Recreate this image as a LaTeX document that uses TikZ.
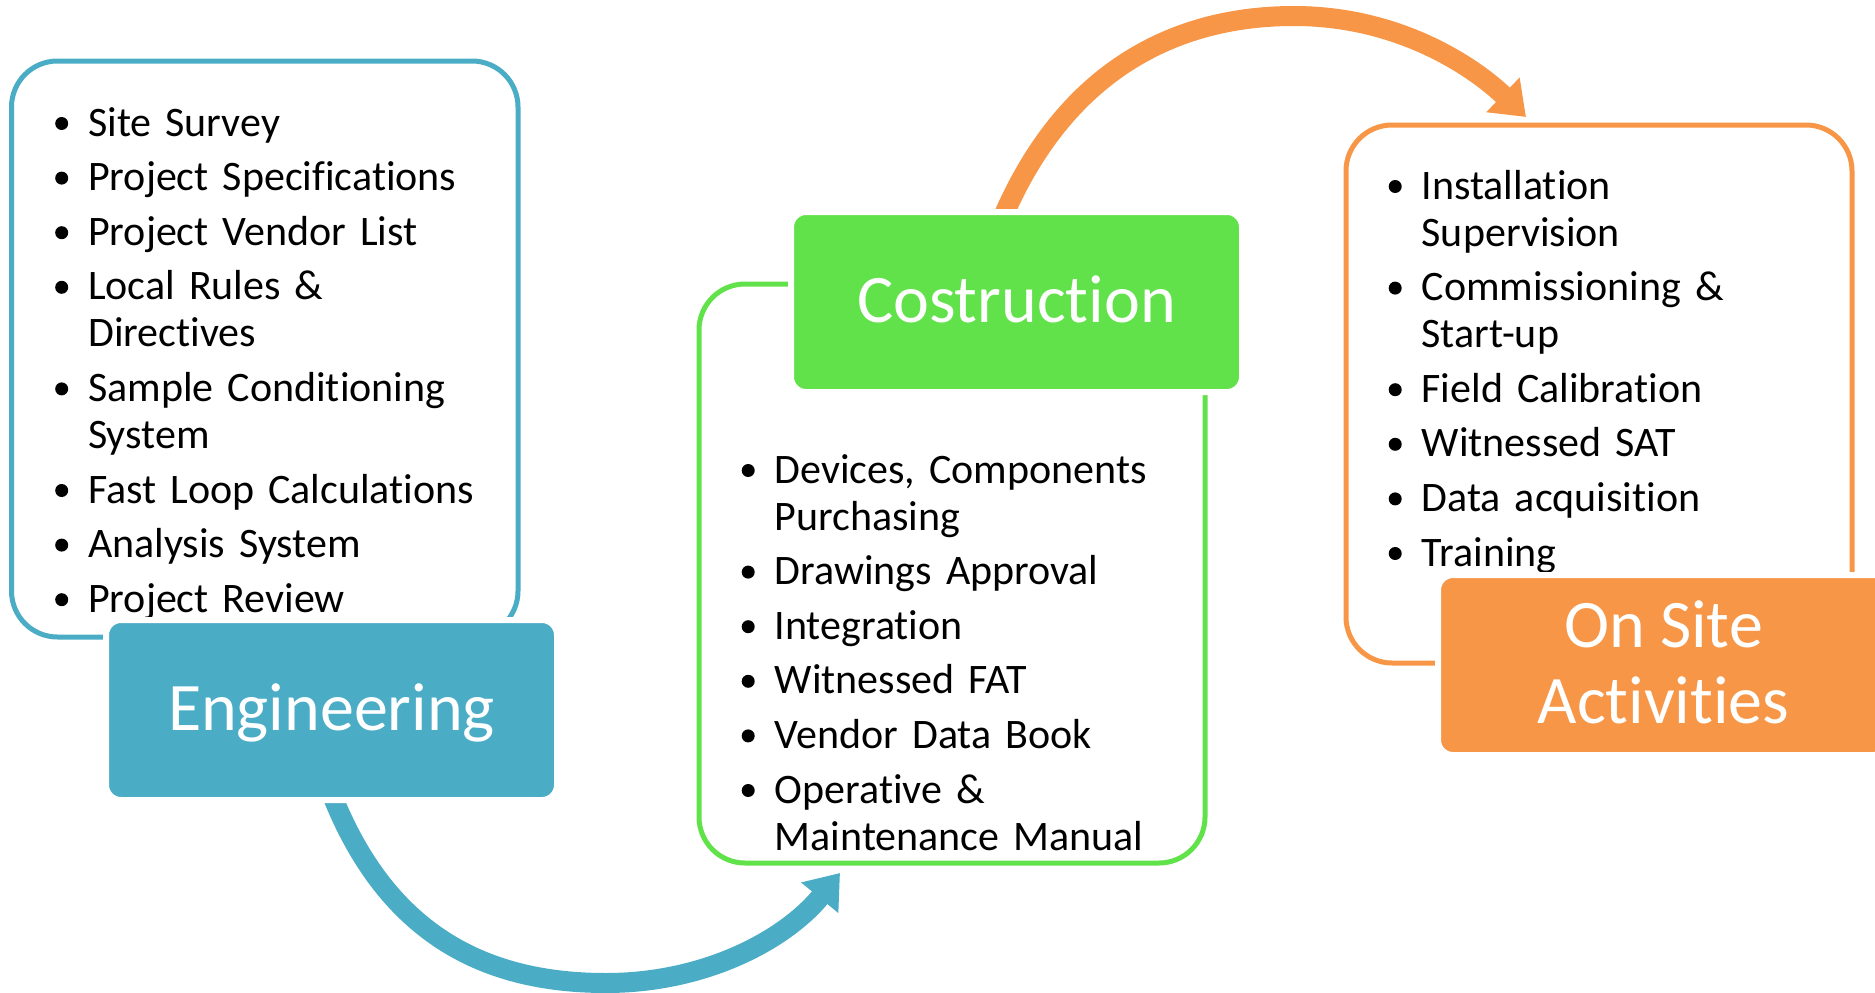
\documentclass[tikz,border=0pt]{standalone}
\usepackage{fontspec}
\setmainfont{Carlito}[Ligatures={NoCommon}]
\usetikzlibrary{arrows.meta}
\definecolor{engblue}{HTML}{4BACC6}
\definecolor{congreen}{HTML}{62E24A}
\definecolor{osorange}{HTML}{F79646}
\newcommand{\bitem}[1]{\hangindent=33pt\hangafter=1\noindent\makebox[33pt][l]{\tikz[baseline={(0pt,0pt)}]\fill (0pt,12.5pt) circle (6.5pt);}#1\par}
\begin{document}
\begin{tikzpicture}[x=1pt,y=-1pt,
  outlinebox/.style={draw, line width=5pt, rounded corners=46pt, inner sep=0pt},
  titlebox/.style={draw=white, line width=6pt, rounded corners=15pt, minimum width=451pt, minimum height=180pt, inner sep=0pt, text=white, font=\fontsize{68pt}{76pt}\selectfont},
  titletext/.style={anchor=base, inner sep=0pt, text=white, font=\fontsize{68pt}{76pt}\selectfont},
  listnode/.style={anchor=base west, inner sep=0pt, text width=470pt, align=left, font=\fontsize{42pt}{47pt}\selectfont},
  flow/.style={line width=20pt, -{Triangle[width=46pt,length=32pt]}}]
\useasboundingbox (0,0) rectangle (1875,993);
% connectors (behind)
\coordinate (bS) at (320,761);
\coordinate (bM) at (606,983);
\coordinate (bT) at (840,873);
\draw[flow, engblue] (bS) .. controls (375,935) and (485,983) .. (bM) .. controls (705,983) and (785,940) .. (bT);
\coordinate (oS) at (990,250);
\coordinate (oM) at (1294,16);
\coordinate (oT) at (1526,117);
\draw[flow, osorange] (oS) .. controls (1050,80) and (1165,16) .. (oM) .. controls (1400,16) and (1475,68) .. (oT);
% outline frames
\node[outlinebox, draw=engblue, minimum width=506.5pt, minimum height=576pt] (engframe) at (264.75,349) {};
\node[outlinebox, draw=congreen, minimum width=506pt, minimum height=579pt] (conframe) at (952,573.5) {};
\node[outlinebox, draw=osorange, minimum width=506pt, minimum height=538pt] (osframe) at (1599,394) {};
% lists
\node[listnode] (englist) at (55,136) {\setlength{\parskip}{7.6pt}%
\bitem{Site Survey}%
\bitem{Project Specifications}%
\bitem{Project Vendor List}%
\bitem{Local Rules \&\newline Directives}%
\bitem{Sample Conditioning\newline System}%
\bitem{Fast Loop Calculations}%
\bitem{Analysis System}%
\bitem{Project Review}};
\node[listnode] (conlist) at (741.5,483) {\setlength{\parskip}{7.6pt}%
\bitem{Devices, Components\newline Purchasing}%
\bitem{Drawings Approval}%
\bitem{Integration}%
\bitem{Witnessed FAT}%
\bitem{Vendor Data Book}%
\bitem{Operative \&\newline Maintenance Manual}};
\node[listnode] (oslist) at (1388.5,199) {\setlength{\parskip}{7.6pt}%
\bitem{Installation\newline Supervision}%
\bitem{Commissioning \&\newline Start-up}%
\bitem{Field Calibration}%
\bitem{Witnessed SAT}%
\bitem{Data acquisition}%
\bitem{Training}};
% title boxes
\node[titlebox, fill=engblue, text height=48pt, text depth=8pt] (engbox) at (331.5,710) {Engineering};
\node[titlebox, fill=congreen, text height=48pt, text depth=8pt] (conbox) at (1016.5,302) {Costruction};
\node[titlebox, fill=osorange] (osbox) at (1663.5,665) {};
\node[titletext] (ostext1) at (1663.5,647) {On Site};
\node[titletext] (ostext2) at (1663.5,723) {Activities};
\end{tikzpicture}
\end{document}
